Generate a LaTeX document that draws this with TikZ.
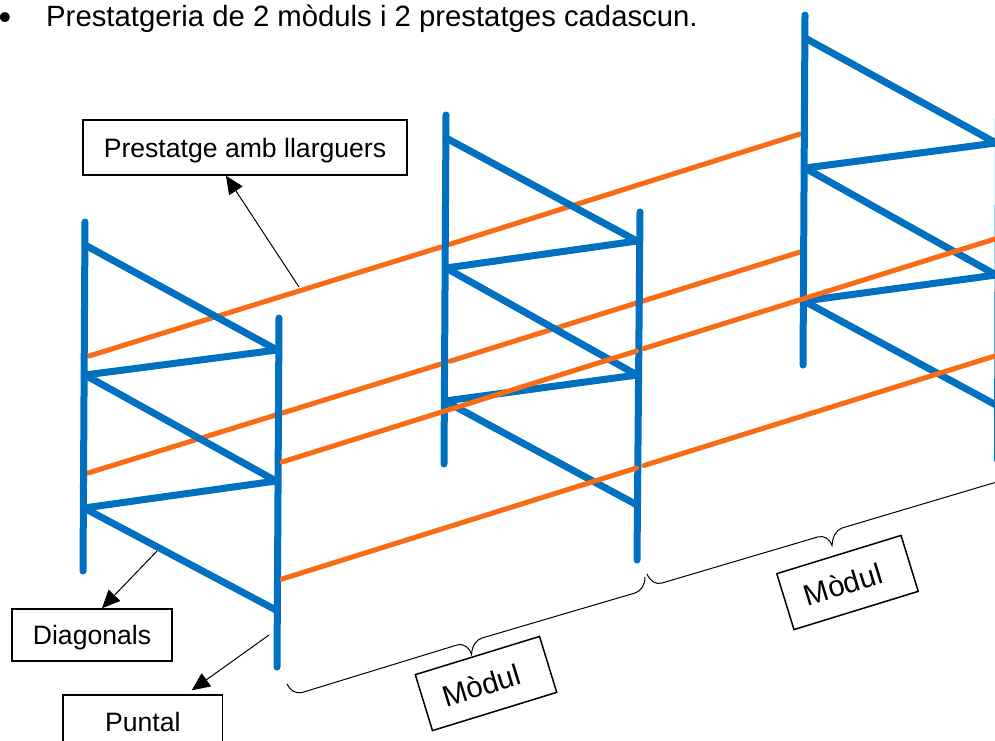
\documentclass[tikz,border=0pt]{standalone}
\usepackage{fontspec}
\setmainfont{Liberation Sans}
\usetikzlibrary{arrows.meta}
\definecolor{frameblue}{HTML}{0070C0}
\definecolor{beamorange}{HTML}{F96B14}
\tikzset{
  frameline/.style={draw=frameblue,line width=7pt,line cap=round,line join=round},
  beam/.style={draw=beamorange,line width=5pt,line cap=round},
  labelbox/.style={draw=black,line width=1.5pt,fill=white,inner sep=0pt,text depth=0pt,align=center,font=\fontsize{26.6}{30}\selectfont},
  plaintext/.style={inner sep=0pt,font=\fontsize{29.3}{32}\selectfont},
  leader/.style={draw=black,line width=1pt,-{Triangle[length=18pt,width=16pt]}},
  bracket/.style={draw=black,line width=1pt,line cap=round},
  modulbox/.style={labelbox,minimum width=130pt,minimum height=58.5pt,rotate=17.1,font=\fontsize{29.5}{30}\selectfont}
}
\begin{document}
\begin{tikzpicture}[x=1pt,y=-1pt]
\useasboundingbox (0,0) rectangle (995,740);
\clip (0,0) rectangle (995,740);
% rear beams (behind the frames)
\draw[beam] (89,356) -- (441,247);
\draw[beam] (450,244.2) -- (800,134);
\draw[beam] (88,473) -- (441,364);
\draw[beam] (450,361.2) -- (800,252);
% frame 1
\draw[frameline] (85,222) -- (83,571);
\draw[frameline] (279,318) -- (277,667);
\draw[frameline] (85,245) -- (277,350) -- (85,375) -- (276,481) -- (84,508) -- (276,610);
% frame 2
\draw[frameline] (446,115) -- (444,464);
\draw[frameline] (640,212) -- (637,560);
\draw[frameline] (446,138) -- (637,241) -- (446,268) -- (637,375) -- (445,401) -- (637,505);
% frame 3
\draw[frameline] (805,15) -- (803,365);
\draw[frameline] (998.5,113) -- (997.5,460);
\draw[frameline] (805,38) -- (996,143) -- (805,168) -- (996,275) -- (804,301) -- (996,405);
% front beams (over the diagonals)
\draw[beam] (282,462) -- (636.5,351);
\draw[beam] (644,348.5) -- (998,238);
\draw[beam] (282,579) -- (636.5,468);
\draw[beam] (644,465.5) -- (998,355);
% title
\node[plaintext,anchor=base,font=\fontsize{36}{36}\selectfont] (bullet) at (5,29) {•};
\node[plaintext,anchor=base west] (title) at (46,26) {Prestatgeria de 2 mòduls i 2 prestatges cadascun.};
% label boxes
\node[labelbox,minimum width=324pt,minimum height=55pt] (shelf) at (245,147.5) {Prestatge amb llarguers};
\node[labelbox,minimum width=160pt,minimum height=52pt] (diag) at (92,635) {Diagonals};
\node[labelbox,minimum width=159.5pt,minimum height=54pt] (post) at (142.75,722) {Puntal};
\node[modulbox] (mod1) at (486,683.5) {Mòdul\hspace*{10pt}};
\node[modulbox] (mod2) at (847.5,582.5) {Mòdul\hspace*{10pt}};
% leaders
\coordinate (shelftail) at (299,287);
\coordinate (diagtail) at (157,551);
\coordinate (posttail) at (269,635);
\draw[leader] (shelftail) -- ([xshift=-19pt]shelf.south);
\draw[leader] (diagtail) -- ([xshift=10pt]diag.north);
\draw[leader] (posttail) -- ([xshift=49pt,yshift=4pt]post.north);
% braces
\draw[bracket] (287,684) .. controls (290,690) and (295,694) .. (302,692.5) -- (457,645)
  .. controls (464,643) and (470,648) .. (471.5,654.5)
  .. controls (472,646) and (476,640) .. (482,638) -- (635,593)
  .. controls (641,591) and (645,585) .. (645,577);
\draw[bracket] (647,574) .. controls (650,581) and (656,585) .. (662,583) -- (817.5,537)
  .. controls (824,535) and (830,539) .. (832,545.5)
  .. controls (832.5,537) and (836,530) .. (842,528) -- (1000,481);
\end{tikzpicture}
\end{document}
